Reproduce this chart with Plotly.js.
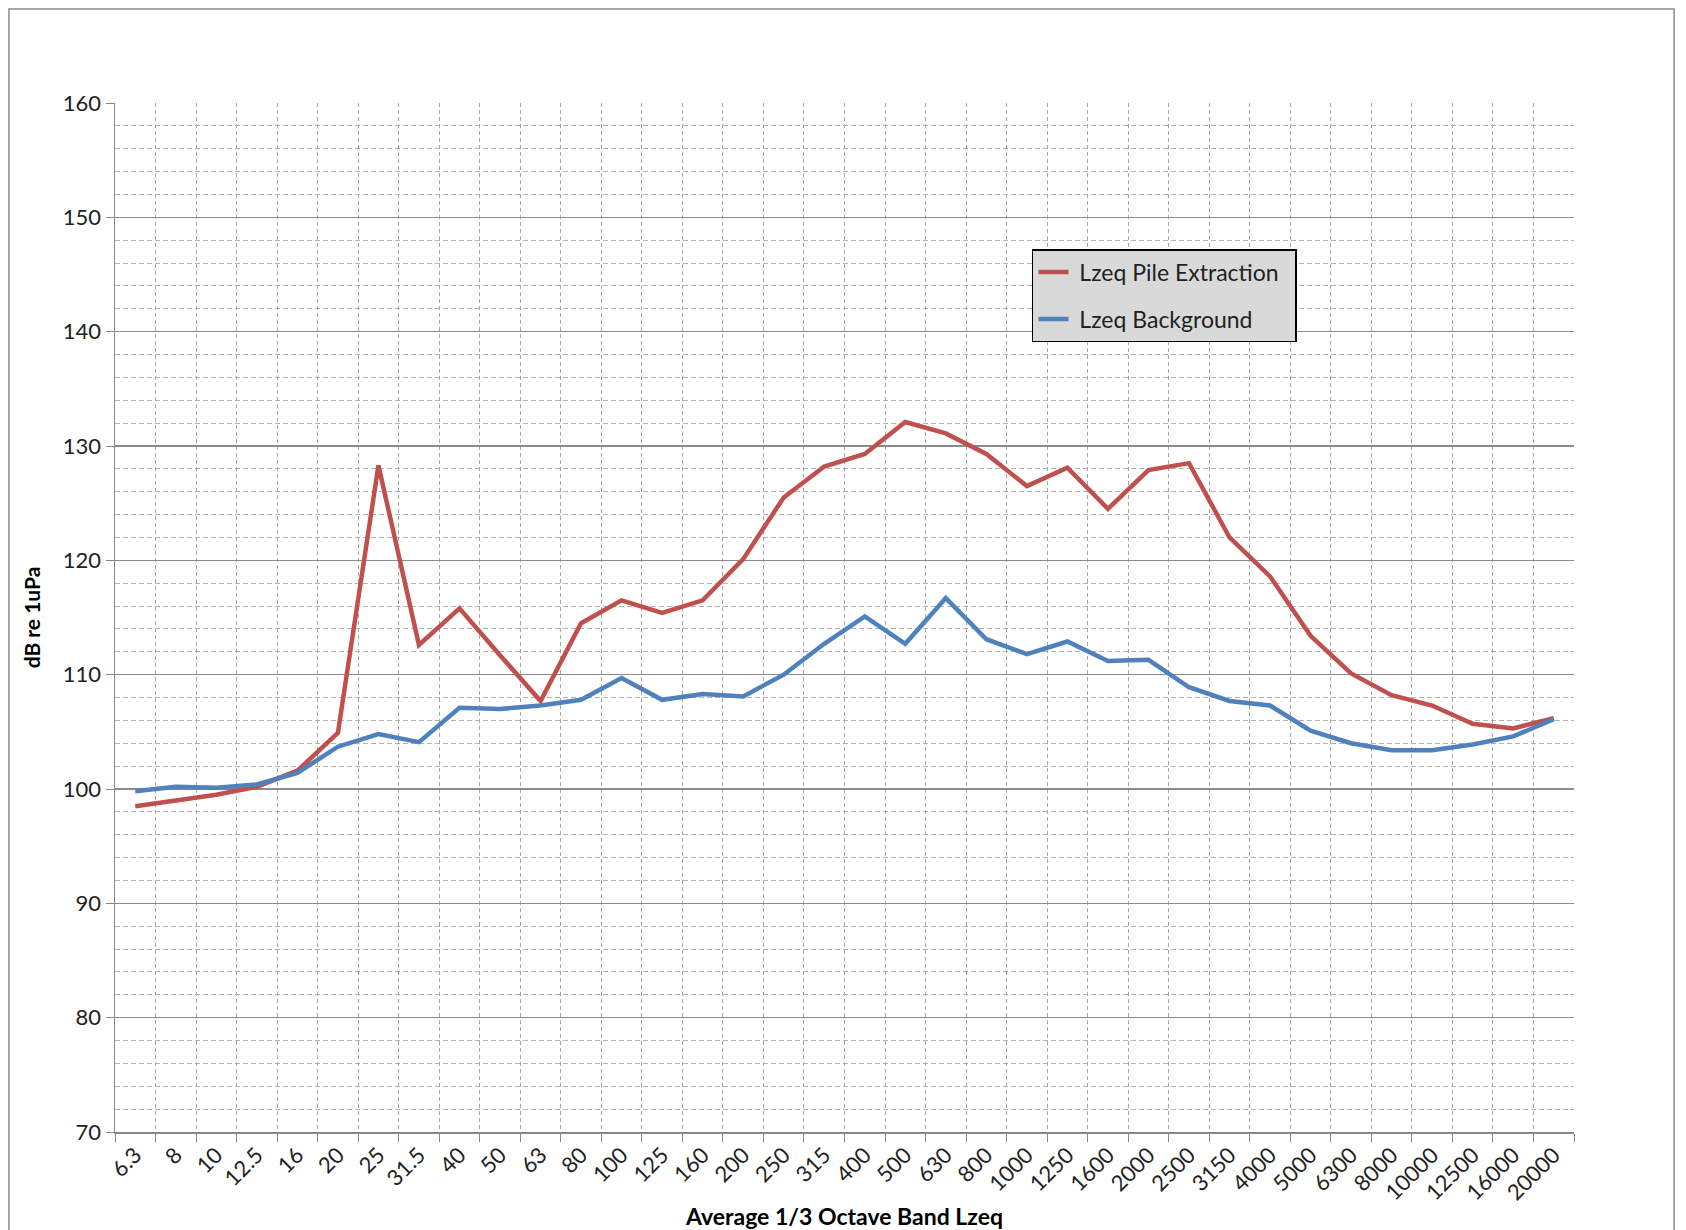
<!DOCTYPE html>
<html>
<head>
<meta charset="utf-8">
<script src="https://cdn.plot.ly/plotly-3.0.1.min.js"></script>
<style>
  html, body { margin: 0; padding: 0; background: #fff; }
  #chart { width: 1686px; height: 1230px; }
</style>
</head>
<body>
<div id="chart"></div>
<script>
// 1/3 octave band centre frequencies (Hz)
var bands = ['6.3', '8', '10', '12.5', '16', '20', '25', '31.5', '40', '50', '63', '80',
  '100', '125', '160', '200', '250', '315', '400', '500', '630', '800', '1000', '1250',
  '1600', '2000', '2500', '3150', '4000', '5000', '6300', '8000', '10000', '12500', '16000', '20000'];

// Lzeq, dB re 1uPa
var pileExtraction = [98.5, 99.0, 99.5, 100.2, 101.6, 104.9, 128.3, 112.6, 115.8, 111.7, 107.7, 114.5,
  116.5, 115.4, 116.5, 120.1, 125.5, 128.2, 129.3, 132.1, 131.1, 129.3, 126.5, 128.1,
  124.5, 127.9, 128.5, 122.0, 118.6, 113.4, 110.1, 108.2, 107.3, 105.7, 105.3, 106.2];

var background = [99.8, 100.2, 100.1, 100.4, 101.4, 103.7, 104.8, 104.1, 107.1, 107.0, 107.3, 107.8,
  109.7, 107.8, 108.3, 108.1, 110.0, 112.7, 115.1, 112.7, 116.7, 113.1, 111.8, 112.9,
  111.2, 111.3, 108.9, 107.7, 107.3, 105.1, 104.0, 103.4, 103.4, 103.9, 104.6, 106.1];

var font = 'Lato, "Open Sans", sans-serif';

var traces = [
  {
    x: bands, y: pileExtraction, type: 'scatter', mode: 'lines',
    name: '\u00a0Lzeq Pile Extraction\u00a0\u00a0', legendgroup: 'pile',
    line: {color: '#C0504D', width: 4.5}
  },
  {
    x: bands, y: background, type: 'scatter', mode: 'lines',
    name: '\u00a0Lzeq Background', legendgroup: 'bg',
    line: {color: '#4F81BD', width: 4.5}
  }
];

var layout = {
  width: 1686,
  height: 1230,
  paper_bgcolor: '#ffffff',
  plot_bgcolor: '#ffffff',
  margin: {l: 115, r: 112, t: 103, b: 98},
  font: {family: font, size: 21, color: '#000'},
  showlegend: true,
  legend: {
    x: 0.6285, y: 0.858, xanchor: 'left', yanchor: 'top',
    bgcolor: '#d9d9d9', bordercolor: '#000', borderwidth: 1.5,
    font: {family: font, size: 23, color: '#222'},
    tracegroupgap: 14
  },
  xaxis: {
    type: 'category',
    range: [-0.5, 35.5],
    tickson: 'boundaries',
    ticks: 'outside', ticklen: 8, tickcolor: '#888',
    tickangle: -45,
    tickfont: {family: font, size: 22, color: '#222'},
    showgrid: true, gridcolor: '#a6a6a6', griddash: '4px,3px', gridwidth: 1,
    showline: true, linecolor: '#888', linewidth: 1.5,
    zeroline: false,
    title: {text: '<b>Average 1/3 Octave Band Lzeq</b>', font: {family: font, size: 23, color: '#000'}, standoff: 4}
  },
  yaxis: {
    range: [70, 160],
    dtick: 10,
    ticks: 'outside', ticklen: 8, tickcolor: '#888',
    tickfont: {family: font, size: 22, color: '#222'},
    showgrid: true, gridcolor: '#8c8c8c', gridwidth: 1.5,
    minor: {dtick: 2, showgrid: true, gridcolor: '#b3b3b3', griddash: '5px,3px', gridwidth: 1},
    showline: true, linecolor: '#888', linewidth: 1.5,
    zeroline: false,
    title: {text: '<b>dB re 1uPa</b>', font: {family: font, size: 21, color: '#000'}, standoff: 16}
  },
  shapes: [
    {type: 'rect', xref: 'paper', yref: 'paper',
     x0: -0.0727, x1: 1.0686, y0: -0.2, y1: 1.0914,
     line: {color: '#8c8c8c', width: 1.5}, fillcolor: 'rgba(0,0,0,0)', layer: 'below'}
  ]
};

Plotly.newPlot('chart', traces, layout, {displayModeBar: false, staticPlot: true});
</script>
</body>
</html>
